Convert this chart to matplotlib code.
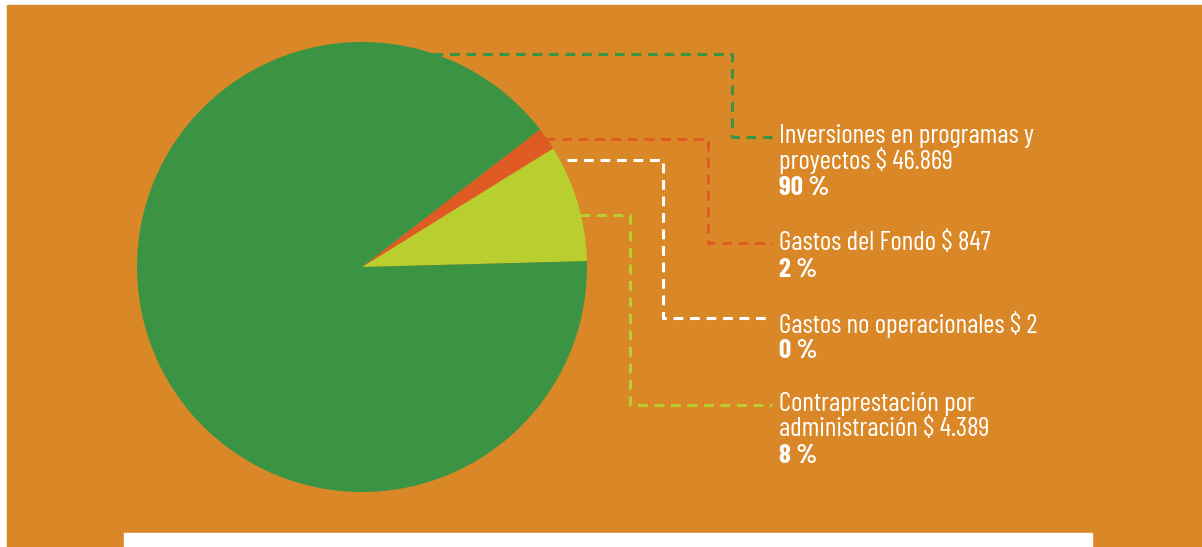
import matplotlib.pyplot as plt
from matplotlib.patches import Rectangle

plt.rcParams['font.family'] = ['Barlow Condensed', 'DejaVu Sans']

# data (order counterclockwise from the right)
labels = ["Contraprestación por\nadministración", "Gastos no operacionales",
          "Gastos del Fondo", "Inversiones en programas y\nproyectos"]
values = [4389, 2, 847, 46869]
amounts = ["4.389", "2", "847", "46.869"]
percents = ["8 %", "0 %", "2 %", "90 %"]
slice_colors = ["#B9CF30", "#F0A830", "#E05A24", "#3A9444"]
line_colors = ["#B9CF30", "#FFFFFF", "#E05A24", "#3A9444"]

W, H = 1202, 547
bg = "#DA8727"

fig = plt.figure(figsize=(W / 100, H / 100), dpi=100, facecolor="white")
ax = fig.add_axes([0, 0, 1, 1])


def Y(y):
    return H - y


ax.add_patch(Rectangle((7, 0), W - 7, H - 5, color=bg, zorder=0))
ax.add_patch(Rectangle((124, 0), 1092 - 124, 14, color="white", zorder=1))

ax.pie(values, colors=slice_colors, startangle=1.5, counterclock=True,
       center=(362, Y(267)), radius=225, frame=True,
       wedgeprops=dict(linewidth=0, zorder=2))
ax.set_xlim(0, W)
ax.set_ylim(0, H)
ax.set_aspect("equal")
ax.axis("off")

# leader lines: start x, y of horizontal, corner x, label y
leaders = [
    (580, 215, 630, 405),
    (567, 160, 663, 318),
    (545, 139, 708, 243),
    (433, 54, 732, 137),
]
for (x0, y0, xc, y1), c in zip(leaders, line_colors):
    ax.plot([x0, xc, xc, 772], [Y(y0), Y(y0), Y(y1), Y(y1)], color=c,
            lw=2.2, ls=(0, (3.2, 2.2)), zorder=3, solid_joinstyle="miter")

text_tops = [404, 324, 243, 136]
for lab, amt, pct, ty in zip(labels, amounts, percents, text_tops):
    lines = (lab + " $ " + amt).split("\n")
    for i, ln in enumerate(lines):
        ax.text(779, Y(ty + 25 * i), ln, color="white", fontsize=19.5,
                va="center", ha="left", zorder=4)
    ax.text(779, Y(ty + 25 * len(lines) + 2), pct, color="white", fontsize=19.5,
            fontweight="bold", va="center", ha="left", zorder=4)

fig.savefig("out.png", dpi=100, facecolor="white")
